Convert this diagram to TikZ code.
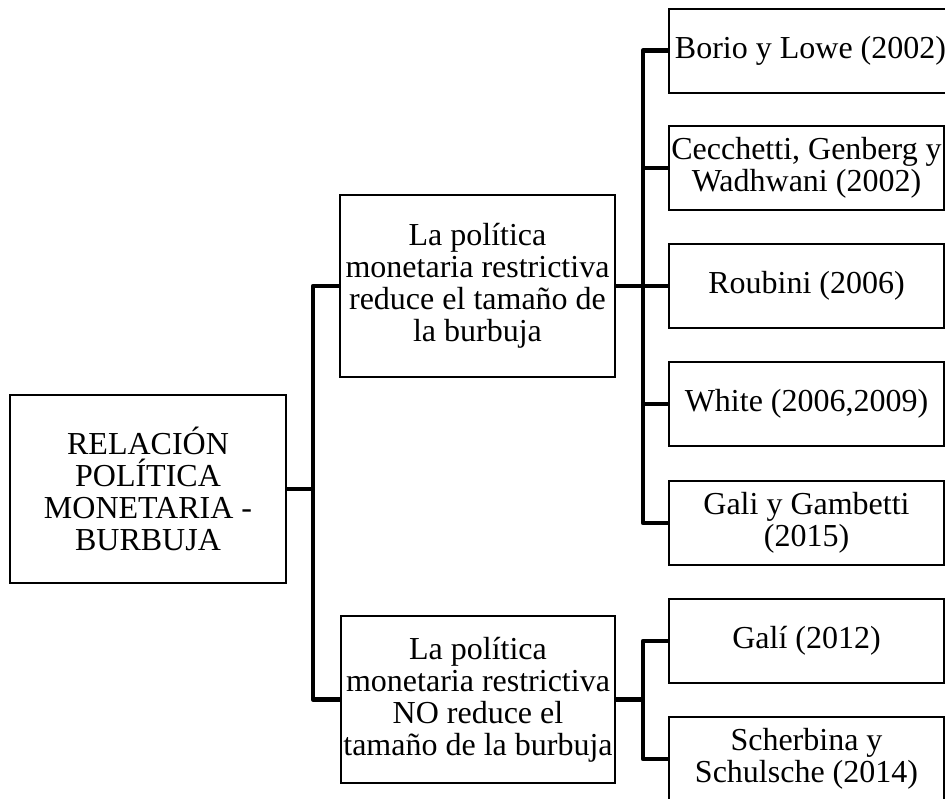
\documentclass[tikz,border=0pt]{standalone}
\usepackage{fontspec}
\setmainfont{Liberation Serif}
\begin{document}
\begin{tikzpicture}[x=1pt,y=-1pt,
  box/.style={draw=black, line width=2pt, rectangle, align=center, inner sep=2pt,
    font=\fontsize{32}{32}\selectfont, text=black},
  refbox/.style={box, minimum width=275pt, minimum height=84pt},
  conn/.style={draw=black, line width=4.5pt, line join=round}]
\useasboundingbox (0,0) rectangle (945,798);
\clip (0,0) rectangle (945,798);

% main topic
\node[box, minimum width=276pt, minimum height=188pt] (root) at (148,489)
  {RELACIÓN\\POLÍTICA\\MONETARIA -\\BURBUJA};

% two positions
\node[box, minimum width=275pt, minimum height=182pt] (up) at (477.5,286)
  {La política\\monetaria restrictiva\\reduce el tamaño de\\la burbuja};
\node[box, minimum width=274pt, minimum height=167pt] (down) at (478,699.5)
  {La política\\monetaria restrictiva\\NO reduce el\\tamaño de la burbuja};

% references
\node[refbox, minimum width=283pt] (r1) at (810.5,50.5) {Borio y Lowe (2002)};
\node[refbox] (r2) at (806.5,168) {Cecchetti, Genberg y\\Wadhwani (2002)};
\node[refbox] (r3) at (806.5,286) {Roubini (2006)};
\node[refbox] (r4) at (806.5,404) {White (2006,2009)};
\node[refbox] (r5) at (806.5,523) {Gali y Gambetti\\(2015)};
\node[refbox] (r6) at (806.5,641) {Galí (2012)};
\node[refbox] (r7) at (806.5,759) {Scherbina y\\Schulsche (2014)};

% connectors
\coordinate (tA) at (313,489);
\coordinate (tB) at (643,286);
\coordinate (tC) at (643,699.5);

\draw[conn] (root.east) -- (root.east -| tA);
\draw[conn] (up.west) -| (tA) |- (down.west);

\draw[conn] (up.east) -- (up.east -| tB);
\draw[conn] (r1.west) -| (tB) |- (r5.west);
\draw[conn] (r2.west) -- (r2.west -| tB);
\draw[conn] (r3.west) -- (r3.west -| tB);
\draw[conn] (r4.west) -- (r4.west -| tB);

\draw[conn] (down.east) -- (down.east -| tC);
\draw[conn] (r6.west) -| (tC) |- (r7.west);
\end{tikzpicture}
\end{document}
